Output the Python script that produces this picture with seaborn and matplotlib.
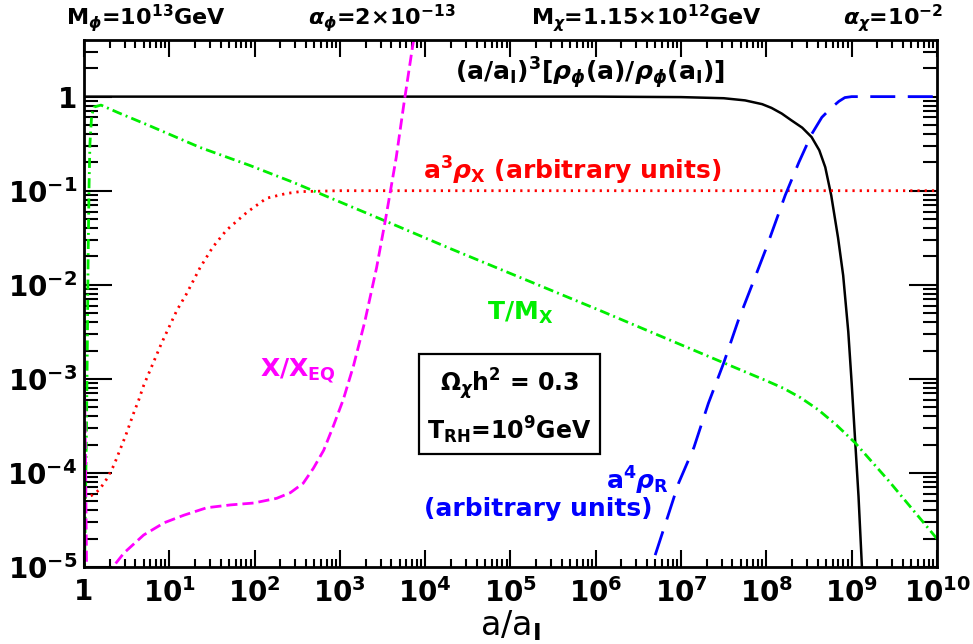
import matplotlib
matplotlib.use("Agg")
import matplotlib.pyplot as plt
import numpy as np
import pandas as pd
import seaborn as sns
from matplotlib.ticker import FixedLocator, FuncFormatter, NullFormatter

# Curves: log10(a/a_I) and log10(value) pairs.
PHI_LOGA = [0.0, 3.0, 6.0, 7.0, 7.5, 7.75, 7.95, 8.06, 8.18, 8.29, 8.42, 8.53,
            8.62, 8.69, 8.76, 8.84, 8.90, 8.96, 9.00, 9.04, 9.08, 9.12, 9.14]
PHI_LOGY = [0.0, 0.0, 0.0, -0.005, -0.017, -0.04, -0.08, -0.12, -0.18, -0.25,
            -0.33, -0.43, -0.57, -0.75, -1.05, -1.50, -1.90, -2.50, -3.05,
            -3.65, -4.25, -5.0, -5.5]

RHOX_LOGA = [0.0, 0.09, 0.18, 0.27, 0.35, 0.42, 0.49, 0.58, 0.64, 0.70, 0.91,
             1.09, 1.20, 1.36, 1.51, 1.67, 1.91, 2.14, 2.37, 2.53, 3.0, 10.0]
RHOX_LOGY = [-4.27, -4.24, -4.18, -4.06, -3.92, -3.76, -3.60, -3.37, -3.23,
             -3.07, -2.62, -2.27, -2.10, -1.82, -1.60, -1.42, -1.23, -1.08,
             -1.03, -1.01, -1.0, -1.0]

TEMP_LOGA = [0.0, 0.03, 0.04, 0.05, 0.06, 0.07, 0.09, 0.12, 0.2, 0.4, 0.77,
             1.36, 1.94, 2.45, 3.58, 4.28, 6.04, 7.5, 8.0, 8.2, 8.4, 8.61,
             8.82, 9.04, 9.43, 9.89, 10.0]
TEMP_LOGY = [-5.5, -3.5, -2.6, -1.6, -0.92, -0.5, -0.2, -0.11, -0.09, -0.17,
             -0.31, -0.54, -0.73, -0.91, -1.34, -1.61, -2.27, -2.83, -3.02,
             -3.10, -3.20, -3.33, -3.49, -3.68, -4.08, -4.58, -4.70]

XEQ_LOGA = [0.0, 0.02, 0.035, 0.28, 0.33, 0.47, 0.70, 0.94, 1.17, 1.44, 1.72,
            1.99, 2.26, 2.42, 2.57, 2.69, 2.81, 2.92, 3.04, 3.16, 3.29, 3.43,
            3.54, 3.66, 3.75, 3.85, 3.92]
XEQ_LOGY = [-2.6, -4.0, -5.5, -5.4, -5.01, -4.85, -4.66, -4.53, -4.45, -4.37,
            -4.34, -4.32, -4.27, -4.21, -4.11, -3.95, -3.76, -3.51, -3.22,
            -2.86, -2.40, -1.82, -1.28, -0.65, -0.08, 0.52, 0.9]

RAD_LOGA = [6.55, 6.64, 6.82, 6.97, 7.15, 7.32, 7.50, 7.67, 7.85, 7.99, 8.22,
            8.38, 8.53, 8.65, 8.76, 8.85, 8.92, 9.0, 10.0]
RAD_LOGY = [-5.25, -5.03, -4.53, -4.11, -3.73, -3.26, -2.83, -2.38, -1.96,
            -1.63, -1.05, -0.70, -0.40, -0.22, -0.12, -0.05, -0.01, 0.0, 0.0]

CURVES = {
    "phi": (PHI_LOGA, PHI_LOGY),
    "rhox": (RHOX_LOGA, RHOX_LOGY),
    "temp": (TEMP_LOGA, TEMP_LOGY),
    "xeq": (XEQ_LOGA, XEQ_LOGY),
    "rad": (RAD_LOGA, RAD_LOGY),
}
COLORS = {"phi": "black", "rhox": "#ff0000", "temp": "#00ee00",
          "xeq": "#ff00ff", "rad": "#0000ff"}
DASHES = {"phi": "", "rhox": (0.8, 1.8), "temp": (3.6, 1.5, 0.7, 1.5),
          "xeq": (4, 1.8), "rad": (9, 4.5)}

X_DECADES = list(range(0, 11))
Y_DECADES = list(range(-5, 1))

TOP_LABELS = [r"M$_\phi$=10$^{13}$GeV", r"$\alpha_\phi$=2$\times$10$^{-13}$",
              r"M$_\chi$=1.15$\times$10$^{12}$GeV", r"$\alpha_\chi$=10$^{-2}$"]


def decade_label(v, pos):
    n = int(round(np.log10(v)))
    return "1" if n == 0 else rf"10$^{{{n}}}$"


def main():
    sns.set_theme(style="ticks")
    plt.rcParams["font.family"] = ["DejaVu Sans"]
    plt.rcParams["font.weight"] = "bold"
    plt.rcParams["text.color"] = "black"
    plt.rcParams["axes.labelcolor"] = "black"
    plt.rcParams["mathtext.fontset"] = "custom"
    plt.rcParams["mathtext.rm"] = "DejaVu Sans:bold"
    plt.rcParams["mathtext.it"] = "DejaVu Sans:italic:bold"
    plt.rcParams["mathtext.bf"] = "DejaVu Sans:bold"
    plt.rcParams["mathtext.sf"] = "DejaVu Sans:bold"

    frames = []
    for name, (la, ly) in CURVES.items():
        frames.append(pd.DataFrame({"a": 10.0 ** np.array(la),
                                    "value": 10.0 ** np.array(ly),
                                    "curve": name}))
    df = pd.concat(frames, ignore_index=True)

    fig = plt.figure(figsize=(9.73, 6.44), dpi=100)
    ax = fig.add_axes([0.0863, 0.1196, 0.8767, 0.8183])
    ax.set_xscale("log")
    ax.set_yscale("log")

    sns.lineplot(data=df, x="a", y="value", hue="curve", style="curve",
                 palette=COLORS, dashes=DASHES, hue_order=list(CURVES),
                 style_order=list(CURVES), sort=False, estimator=None,
                 linewidth=2.0, legend=False, ax=ax)
    ax.lines[0].set_linewidth(1.8)

    ax.set_xlim(1, 1e10)
    ax.set_ylim(1e-5, 4)

    ax.xaxis.set_major_locator(FixedLocator([10.0 ** n for n in X_DECADES]))
    ax.yaxis.set_major_locator(FixedLocator([10.0 ** n for n in Y_DECADES]))
    xminor = [m * 10.0 ** n for n in X_DECADES[:-1] for m in range(2, 10)]
    yminor = [m * 10.0 ** n for n in Y_DECADES for m in range(2, 10)]
    ax.xaxis.set_minor_locator(FixedLocator(xminor))
    ax.yaxis.set_minor_locator(FixedLocator([v for v in yminor if v < 4]))
    ax.xaxis.set_major_formatter(FuncFormatter(decade_label))
    ax.yaxis.set_major_formatter(FuncFormatter(decade_label))
    ax.xaxis.set_minor_formatter(NullFormatter())
    ax.yaxis.set_minor_formatter(NullFormatter())

    ax.tick_params(which="both", direction="in", top=True, right=True,
                   width=1.5, colors="black", labelsize=20)
    ax.tick_params(axis="x", which="major", length=12, pad=8)
    ax.tick_params(axis="x", which="minor", length=6)
    ax.tick_params(axis="y", which="major", length=20, pad=5)
    ax.tick_params(axis="y", which="minor", length=10)
    for sp in ax.spines.values():
        sp.set_linewidth(2)
        sp.set_color("black")

    ax.set_xlabel(r"a/a$_\mathrm{I}$", fontsize=24, labelpad=0)
    ax.set_ylabel("")

    fs = 18
    ax.text(0.593, 0.937, r"(a/a$_\mathrm{I}$)$^3$[$\rho_\phi$(a)/$\rho_\phi$(a$_\mathrm{I}$)]",
            transform=ax.transAxes, ha="center", va="center", fontsize=fs, color="black")
    ax.text(0.572, 0.752, r"a$^3\rho_\mathrm{X}$ (arbitrary units)",
            transform=ax.transAxes, ha="center", va="center", fontsize=fs, color="#ff0000")
    ax.text(0.511, 0.482, r"T/M$_\mathrm{X}$", transform=ax.transAxes,
            ha="center", va="center", fontsize=fs, color="#00ee00")
    ax.text(0.251, 0.372, r"X/X$_\mathrm{EQ}$", transform=ax.transAxes,
            ha="center", va="center", fontsize=fs, color="#ff00ff")
    ax.text(0.649, 0.163, r"a$^4\rho_\mathrm{R}$", transform=ax.transAxes,
            ha="center", va="center", fontsize=fs, color="#0000ff")
    ax.text(0.532, 0.110, "(arbitrary units)", transform=ax.transAxes,
            ha="center", va="center", fontsize=fs, color="#0000ff")
    ax.text(0.499, 0.3055, "$\\Omega_\\chi$h$^2$ = 0.3\nT$_\\mathrm{RH}$=10$^9$GeV",
            transform=ax.transAxes, ha="center", va="center", fontsize=17,
            multialignment="center", linespacing=1.5,
            bbox=dict(boxstyle="square,pad=0.35", fc="white", ec="black", lw=1.6))

    for xc, lab in zip([0.150, 0.392, 0.665, 0.918], TOP_LABELS):
        fig.text(xc, 0.972, lab, ha="center", va="center", fontsize=16)

    fig.savefig("out.png", dpi=100)
    plt.close("all")


if __name__ == "__main__":
    main()
